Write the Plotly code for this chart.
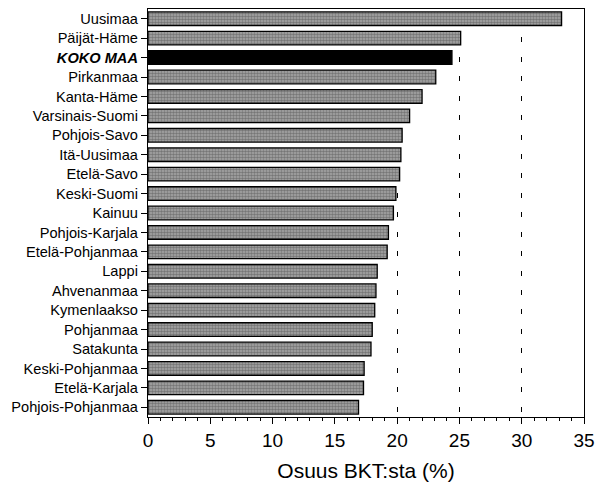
import plotly.graph_objects as go

# maakunnat, ylhäältä alas
alueet = ["Uusimaa", "Päijät-Häme", "KOKO MAA", "Pirkanmaa", "Kanta-Häme",
          "Varsinais-Suomi", "Pohjois-Savo", "Itä-Uusimaa", "Etelä-Savo",
          "Keski-Suomi", "Kainuu", "Pohjois-Karjala", "Etelä-Pohjanmaa",
          "Lappi", "Ahvenanmaa", "Kymenlaakso", "Pohjanmaa", "Satakunta",
          "Keski-Pohjanmaa", "Etelä-Karjala", "Pohjois-Pohjanmaa"]
osuus = [33.2, 25.1, 24.4, 23.1, 22.0, 21.0, 20.4, 20.3, 20.2, 19.9, 19.7,
         19.3, 19.2, 18.4, 18.3, 18.2, 18.0, 17.9, 17.35, 17.3, 16.9]

vari = ["#000000" if a == "KOKO MAA" else "#a8a8a8" for a in alueet]
kuvio = ["" if a == "KOKO MAA" else "." for a in alueet]
nimet = ["<b><i>KOKO MAA</i></b>" if a == "KOKO MAA" else a for a in alueet]

fig = go.Figure(go.Bar(
    x=osuus, y=nimet, orientation="h",
    marker=dict(color=vari, line=dict(color="black", width=1.3),
                pattern=dict(shape=kuvio, fgcolor="#3c3c3c", bgcolor="#cfcfcf",
                             size=3, solidity=0.55)),
    width=0.7,
))

fig.update_layout(
    width=595, height=483,
    margin=dict(l=148, r=11, t=9, b=66),
    plot_bgcolor="white", paper_bgcolor="white",
    font=dict(family="Liberation Sans, Arial", color="black"),
    showlegend=False,
)
fig.update_xaxes(
    range=[0, 35], dtick=5, tickfont=dict(size=19), automargin=False,
    title=dict(text="Osuus BKT:sta (%)", font=dict(size=21), standoff=13),
    showline=True, linecolor="black", linewidth=1.3, mirror=True,
    ticks="outside", ticklen=6, tickcolor="black",
    minor=dict(dtick=1, ticks="outside", ticklen=3, tickcolor="black"),
    showgrid=True, gridcolor="black", gridwidth=1.3,
    griddash="0px,9px,5px,5.43px",
    zeroline=False,
)
fig.update_yaxes(
    autorange="reversed", tickfont=dict(size=14.6), automargin=False,
    showline=True, linecolor="black", linewidth=1.3, mirror=True,
    ticks="outside", ticklen=6, tickcolor="black",
)

# poistetaan sivun oletusmarginaali, jotta kuva täyttää ikkunan
fig.write_html("out.html", config={"displayModeBar": False},
               post_script="document.body.style.margin='0';"
                           "document.body.style.overflow='hidden';")
